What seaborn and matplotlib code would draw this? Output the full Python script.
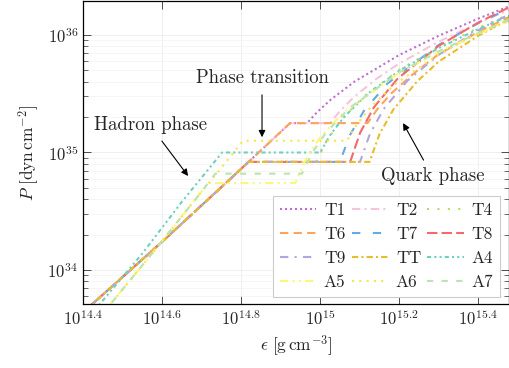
import numpy as np
import pandas as pd
import seaborn as sns
import matplotlib.pyplot as plt
from matplotlib.ticker import FixedLocator, FixedFormatter, LogLocator, NullLocator, NullFormatter

# log10 of energy density [g cm^-3] and pressure [dyn cm^-2]
had_eps = [14.38, 14.50, 14.60, 14.70, 14.80]
had_p = [33.58, 33.94, 34.24, 34.55, 34.86]
hadA_eps = [14.45, 14.577, 14.696]
hadA_p = [33.63, 34.15, 34.65]

eps_T1 = had_eps + [14.924, 14.967, 14.992, 15.027, 15.087, 15.2, 15.3, 15.4, 15.48]
p_T1 = had_p + [35.25, 35.25, 35.342, 35.450, 35.603, 35.829, 35.993, 36.139, 36.246]
eps_T2 = had_eps + [14.924, 15.025, 15.05, 15.085, 15.145, 15.2, 15.3, 15.4, 15.48]
p_T2 = had_p + [35.25, 35.25, 35.352, 35.470, 35.633, 35.757, 35.943, 36.101, 36.216]
eps_T4 = had_eps + [14.818, 14.99, 15.015, 15.05, 15.11, 15.2, 15.3, 15.4, 15.48]
p_T4 = had_p + [34.92, 34.92, 35.091, 35.264, 35.475, 35.703, 35.897, 36.060, 36.176]
eps_T6 = had_eps + [14.924, 15.12, 15.145, 15.18, 15.24, 15.3, 15.4, 15.48]
p_T6 = had_p + [35.25, 35.25, 35.370, 35.503, 35.681, 35.836, 36.026, 36.156]
eps_T7 = had_eps + [14.818, 15.05, 15.075, 15.11, 15.17, 15.3, 15.4, 15.48]
p_T7 = had_p + [34.92, 34.92, 35.145, 35.350, 35.586, 35.915, 36.100, 36.228]
eps_T8 = had_eps + [14.818, 15.076, 15.101, 15.136, 15.196, 15.3, 15.4, 15.48]
p_T8 = had_p + [34.92, 34.92, 35.166, 35.384, 35.628, 35.907, 36.105, 36.238]
eps_T9 = had_eps + [14.818, 15.101, 15.126, 15.161, 15.221, 15.3, 15.4, 15.48]
p_T9 = had_p + [34.92, 34.92, 35.158, 35.371, 35.611, 35.831, 36.040, 36.178]
eps_TT = had_eps + [14.818, 15.125, 15.15, 15.185, 15.245, 15.3, 15.4, 15.48]
p_TT = had_p + [34.92, 34.92, 35.154, 35.364, 35.603, 35.773, 35.993, 36.136]
eps_A4 = [14.42, 14.55, 14.65, 14.752, 15.0, 15.025, 15.06, 15.12, 15.2, 15.3, 15.4, 15.48]
p_A4 = [33.62, 34.14, 34.58, 35.0, 35.0, 35.146, 35.30, 35.498, 35.695, 35.888, 36.049, 36.165]
eps_A5 = hadA_eps + [14.715, 14.937, 14.962, 14.997, 15.057, 15.2, 15.3, 15.4, 15.48]
p_A5 = hadA_p + [34.74, 34.74, 34.929, 35.114, 35.335, 35.678, 35.855, 36.008, 36.119]
eps_A6 = hadA_eps + [14.75, 14.805, 15.068, 15.093, 15.128, 15.188, 15.3, 15.4, 15.48]
p_A6 = hadA_p + [34.87, 35.10, 35.10, 35.238, 35.386, 35.577, 35.835, 36.014, 36.138]
eps_A7 = hadA_eps + [14.735, 14.954, 14.979, 15.014, 15.074, 15.2, 15.3, 15.4, 15.48]
p_A7 = hadA_p + [34.82, 34.82, 34.992, 35.165, 35.378, 35.681, 35.861, 36.016, 36.129]

names = ['T1', 'T2', 'T4', 'T6', 'T7', 'T8', 'T9', 'TT', 'A4', 'A5', 'A6', 'A7']
curves = [(eps_T1, p_T1), (eps_T2, p_T2), (eps_T4, p_T4), (eps_T6, p_T6),
          (eps_T7, p_T7), (eps_T8, p_T8), (eps_T9, p_T9), (eps_TT, p_TT),
          (eps_A4, p_A4), (eps_A5, p_A5), (eps_A6, p_A6), (eps_A7, p_A7)]

colors = ['#bf6fcf', '#f8c3dc', '#b3de69', '#fca35d', '#67a9e0', '#f4696b',
          '#b3a6e0', '#e8bd2a', '#70d0c0', '#fbf77a', '#f9e547', '#b9e5b0']
styles = [(0, (1, 1.4)), (0, (4, 2, 1, 2)), (0, (1, 4)), (0, (4, 2.5)),
          (0, (4, 6)), (0, (5, 2)), (0, (4, 3, 1, 3)), (0, (3, 1.5, 1, 1.5)),
          (0, (2, 1.5, 1, 1.5, 1, 1.5)), (0, (4, 2, 1, 2, 1, 2)), (0, (1, 2.5)), (0, (3, 4))]

xticks = [14.4, 14.6, 14.8, 15.0, 15.2, 15.4]
xtick_labels = [r'$10^{14.4}$', r'$10^{14.6}$', r'$10^{14.8}$', r'$10^{15}$', r'$10^{15.2}$', r'$10^{15.4}$']

sns.set_theme(style='ticks')
plt.rcParams['font.family'] = ['cmr10', 'DejaVu Serif']
plt.rcParams['mathtext.fontset'] = 'cm'
plt.rcParams['axes.unicode_minus'] = False

fig = plt.figure(figsize=(5.1, 3.68), dpi=100)
ax = fig.add_axes([83 / 510, 1 - 304 / 368, 426 / 510, 303 / 368])

for name, (e, p), c, ls in zip(names, curves, colors, styles):
    df = pd.DataFrame({'eps': 10 ** np.array(e), 'P': 10 ** np.array(p)})
    sns.lineplot(data=df, x='eps', y='P', ax=ax, color=c, linestyle=ls, lw=1.5,
                 sort=False, estimator=None, label=name)

ax.set_xscale('log')
ax.set_yscale('log')
ax.set_xlim(10 ** 14.4, 10 ** 15.478)
ax.set_ylim(10 ** 33.711, 10 ** 36.289)

ax.xaxis.set_major_locator(FixedLocator([10 ** t for t in xticks]))
ax.xaxis.set_major_formatter(FixedFormatter(xtick_labels))
ax.xaxis.set_minor_locator(NullLocator())
ax.yaxis.set_major_locator(LogLocator(base=10, numticks=10))
ax.yaxis.set_minor_locator(LogLocator(base=10, subs=np.arange(2, 10), numticks=20))
ax.yaxis.set_minor_formatter(NullFormatter())

ax.grid(True, which='major', color='#ececec', lw=0.6)
ax.grid(True, which='minor', axis='y', color='#f2f2f2', lw=0.5)
ax.tick_params(which='both', direction='in', top=True, right=True, labelsize=12, color='#333333')
ax.tick_params(which='major', length=6, width=0.6)
ax.tick_params(which='minor', length=3.5, width=0.5)
for s in ax.spines.values():
    s.set_linewidth(0.9)
    s.set_color('black')

ax.set_xlabel(r'$\epsilon\ [\mathrm{g\,cm^{-3}}]$', fontsize=12.5)
ax.set_ylabel(r'$P\ [\mathrm{dyn\,cm^{-2}}]$', fontsize=12.5)

arrow = dict(arrowstyle='-|>', color='black', lw=0.8, mutation_scale=10, shrinkA=3, shrinkB=0)
ax.annotate('Phase transition', xy=(10 ** 14.853, 10 ** 35.13), xytext=(10 ** 14.853, 10 ** 35.63),
            ha='center', va='center', fontsize=13.5, arrowprops=arrow)
ax.annotate('Hadron phase', xy=(10 ** 14.666, 10 ** 34.80), xytext=(10 ** 14.570, 10 ** 35.23),
            ha='center', va='center', fontsize=13.5, arrowprops=arrow)
ax.annotate('Quark phase', xy=(10 ** 15.21, 10 ** 35.25), xytext=(10 ** 15.284, 10 ** 34.80),
            ha='center', va='center', fontsize=13.5, arrowprops=arrow)

h, l = ax.get_legend_handles_labels()
order = [0, 3, 6, 9, 1, 4, 7, 10, 2, 5, 8, 11]
leg = ax.legend([h[i] for i in order], [l[i] for i in order], ncol=3, loc='lower right',
                bbox_to_anchor=(0.979, 0.023), borderaxespad=0, fontsize=12.5,
                handlelength=2.1, handletextpad=0.45, columnspacing=0.35, labelspacing=0.5,
                fancybox=False, framealpha=1, edgecolor='#cccccc', borderpad=0.4)
leg.get_frame().set_linewidth(0.8)

fig.savefig('out.png', dpi=100)
